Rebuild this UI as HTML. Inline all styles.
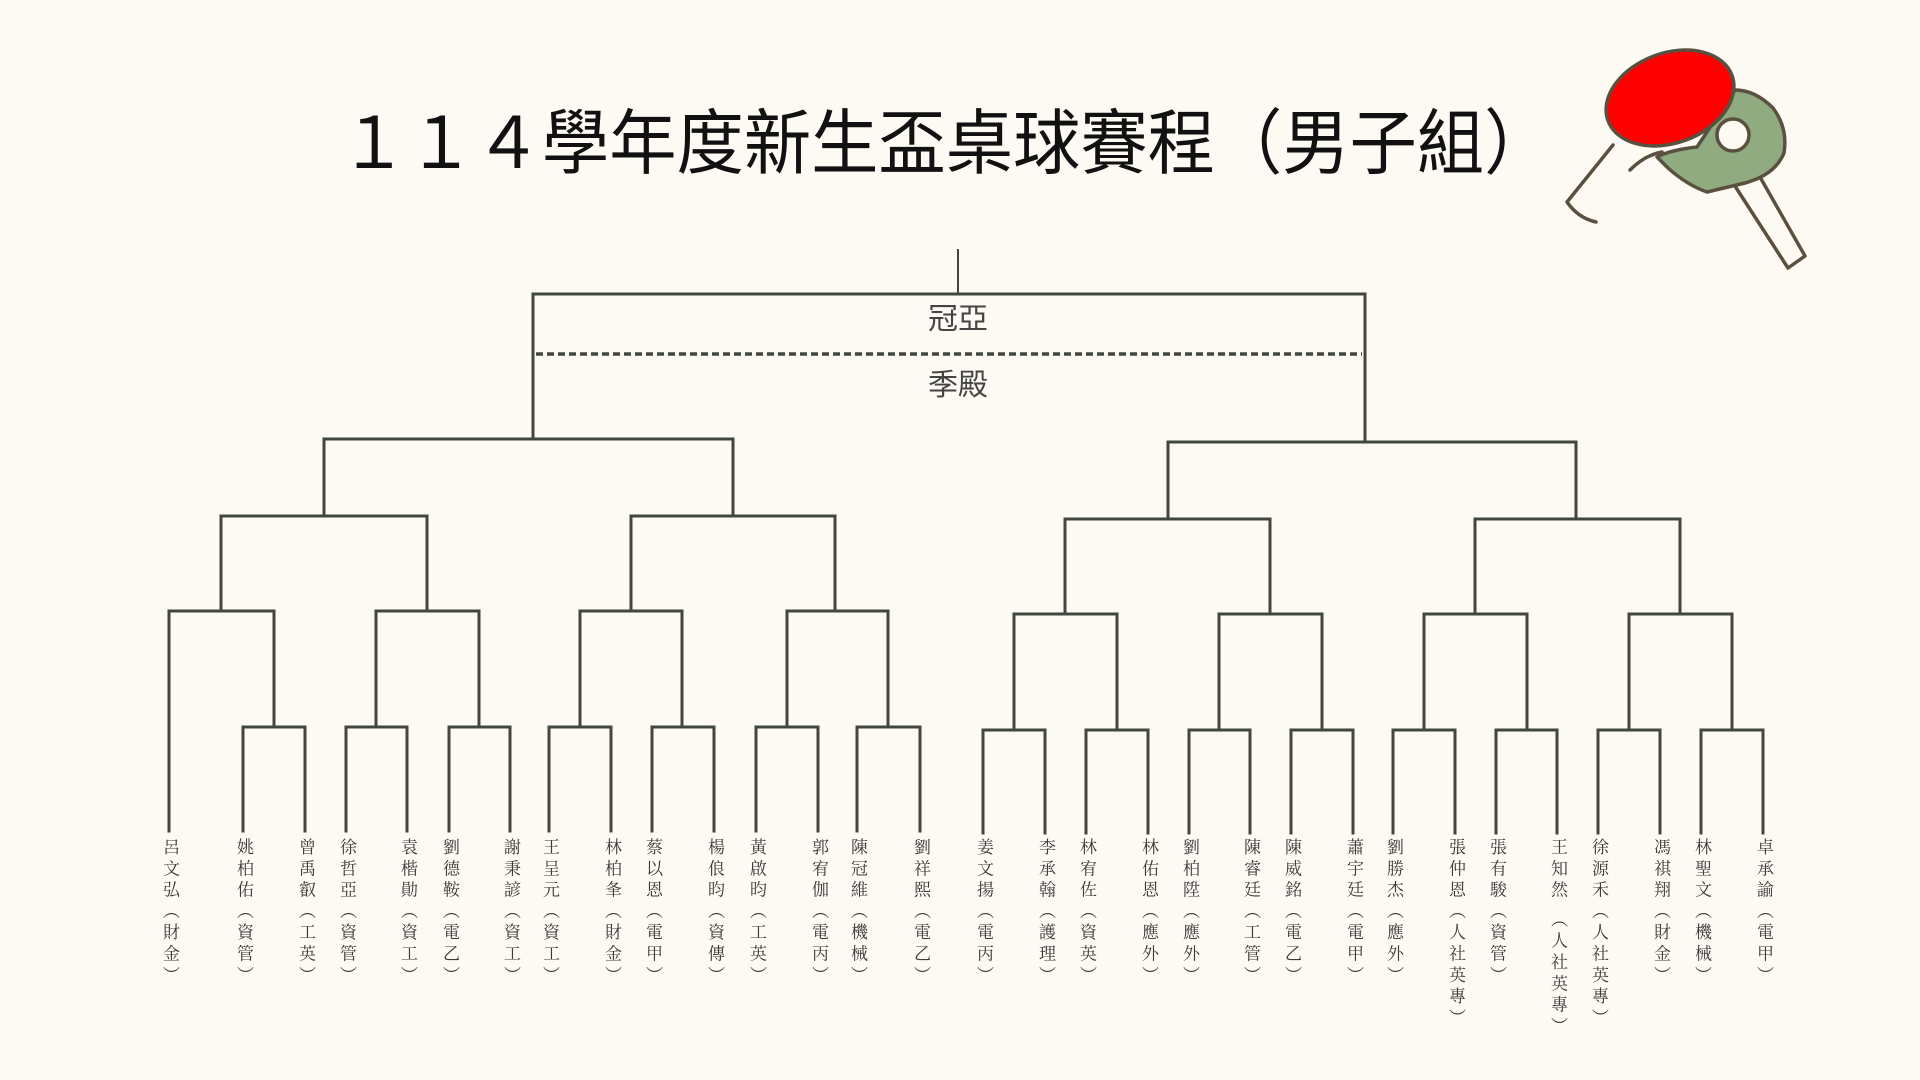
<!DOCTYPE html>
<html><head><meta charset="utf-8"><style>
html,body{margin:0;padding:0;background:#fdf9f3;}
body{width:1920px;height:1080px;overflow:hidden;position:relative;}
svg{position:absolute;left:0;top:0;}
.n{position:absolute;top:838px;writing-mode:vertical-rl;font-family:"Liberation Serif","Noto Serif CJK SC",serif;font-size:17px;letter-spacing:4.3px;color:#3a3a3a;line-height:20px;width:20px;}
</style></head><body>
<svg width="1920" height="1080" viewBox="0 0 1920 1080">
<g transform="translate(340,168) scale(1.06,1.12)">
<text x="0" y="0" font-family="Liberation Sans,Noto Sans CJK TC,sans-serif" font-size="63.5" fill="#111">１１４學年度新生盃桌球賽程（男子組）</text>
</g>
<g stroke="#41463f" stroke-width="3" fill="none" stroke-linecap="square">
<line x1="958" y1="250" x2="958" y2="294" stroke-width="2"/>
<polyline points="533,438 533,294 1365,294 1365,441"/>
<line x1="536" y1="354" x2="1362" y2="354" stroke-dasharray="7,4" stroke-width="3.5" stroke-linecap="butt"/>
<polyline points="324,516 324,439 733,439 733,516"/>
<polyline points="221,611 221,516 427,516 427,611"/>
<polyline points="631,611 631,516 835,516 835,611"/>
<polyline points="169,831 169,611 274,611 274,727"/>
<polyline points="376,727 376,611 479,611 479,727"/>
<polyline points="580,727 580,611 682,611 682,727"/>
<polyline points="787,727 787,611 888,611 888,727"/>
<polyline points="243,831 243,727 305,727 305,831"/>
<polyline points="346,831 346,727 407,727 407,831"/>
<polyline points="449,831 449,727 510,727 510,831"/>
<polyline points="549,831 549,727 611,727 611,831"/>
<polyline points="652,831 652,727 714,727 714,831"/>
<polyline points="756,831 756,727 818,727 818,831"/>
<polyline points="857,831 857,727 920,727 920,831"/>
<polyline points="1168,519 1168,442 1576,442 1576,519"/>
<polyline points="1065,614 1065,519 1270,519 1270,614"/>
<polyline points="1475,614 1475,519 1680,519 1680,614"/>
<polyline points="1014,730 1014,614 1117,614 1117,730"/>
<polyline points="1219,730 1219,614 1322,614 1322,730"/>
<polyline points="1424,730 1424,614 1527,614 1527,730"/>
<polyline points="1629,730 1629,614 1732,614 1732,730"/>
<polyline points="983,833 983,730 1045,730 1045,833"/>
<polyline points="1086,833 1086,730 1148,730 1148,833"/>
<polyline points="1189,833 1189,730 1250,730 1250,833"/>
<polyline points="1291,833 1291,730 1353,730 1353,833"/>
<polyline points="1393,833 1393,730 1455,730 1455,833"/>
<polyline points="1496,833 1496,730 1557,730 1557,833"/>
<polyline points="1598,833 1598,730 1660,730 1660,833"/>
<polyline points="1701,833 1701,730 1763,730 1763,833"/>
</g>
<text x="958" y="329" text-anchor="middle" font-family="Liberation Sans,Noto Sans CJK TC,sans-serif" font-size="30" fill="#444">冠亞</text>
<text x="958" y="395" text-anchor="middle" font-family="Liberation Sans,Noto Sans CJK TC,sans-serif" font-size="30" fill="#444">季殿</text>
<g stroke="#5a5040" stroke-width="3.5" stroke-linecap="round" stroke-linejoin="round" fill="none">
<path d="M1613,145 L1567,202 Q1578,218 1596,222" />
<path d="M1630,170 Q1645,155 1662,152"/>
<path d="M1733,183 L1788,268 L1805,256 L1760,177" fill="#fdf9f3"/>
<path d="M1735,90 Q1755,90 1773,108 Q1788,128 1784,153 Q1775,175 1745,183 L1707,192 Q1687,185 1668,168 L1657,157 Q1670,150 1697,147 Z" fill="#8fab7f"/>
<circle cx="1733" cy="135" r="16" fill="#fdf9f3"/>
<ellipse cx="1670" cy="98" rx="66" ry="45" transform="rotate(-20 1670 98)" fill="#ff0000"/>
</g>
</svg>
<div class="n" style="left:159px">呂文弘（財金）</div>
<div class="n" style="left:233px">姚柏佑（資管）</div>
<div class="n" style="left:295px">曾禹叡（工英）</div>
<div class="n" style="left:336px">徐哲亞（資管）</div>
<div class="n" style="left:397px">袁楷勛（資工）</div>
<div class="n" style="left:439px">劉德鞍（電乙）</div>
<div class="n" style="left:500px">謝秉諺（資工）</div>
<div class="n" style="left:539px">王呈元（資工）</div>
<div class="n" style="left:601px">林柏夆（財金）</div>
<div class="n" style="left:642px">蔡以恩（電甲）</div>
<div class="n" style="left:704px">楊俍昀（資傳）</div>
<div class="n" style="left:746px">黃啟昀（工英）</div>
<div class="n" style="left:808px">郭宥伽（電丙）</div>
<div class="n" style="left:847px">陳冠維（機械）</div>
<div class="n" style="left:910px">劉祥熙（電乙）</div>
<div class="n" style="left:973px">姜文揚（電丙）</div>
<div class="n" style="left:1035px">李承翰（護理）</div>
<div class="n" style="left:1076px">林宥佐（資英）</div>
<div class="n" style="left:1138px">林佑恩（應外）</div>
<div class="n" style="left:1179px">劉柏陞（應外）</div>
<div class="n" style="left:1240px">陳睿廷（工管）</div>
<div class="n" style="left:1281px">陳威銘（電乙）</div>
<div class="n" style="left:1343px">蕭宇廷（電甲）</div>
<div class="n" style="left:1383px">劉勝杰（應外）</div>
<div class="n" style="left:1445px">張仲恩（人社英專）</div>
<div class="n" style="left:1486px">張有駿（資管）</div>
<div class="n" style="left:1547px">王知然 （人社英專）</div>
<div class="n" style="left:1588px">徐源禾（人社英專）</div>
<div class="n" style="left:1650px">馮祺翔（財金）</div>
<div class="n" style="left:1691px">林聖文（機械）</div>
<div class="n" style="left:1753px">卓承諭（電甲）</div>
</body></html>
